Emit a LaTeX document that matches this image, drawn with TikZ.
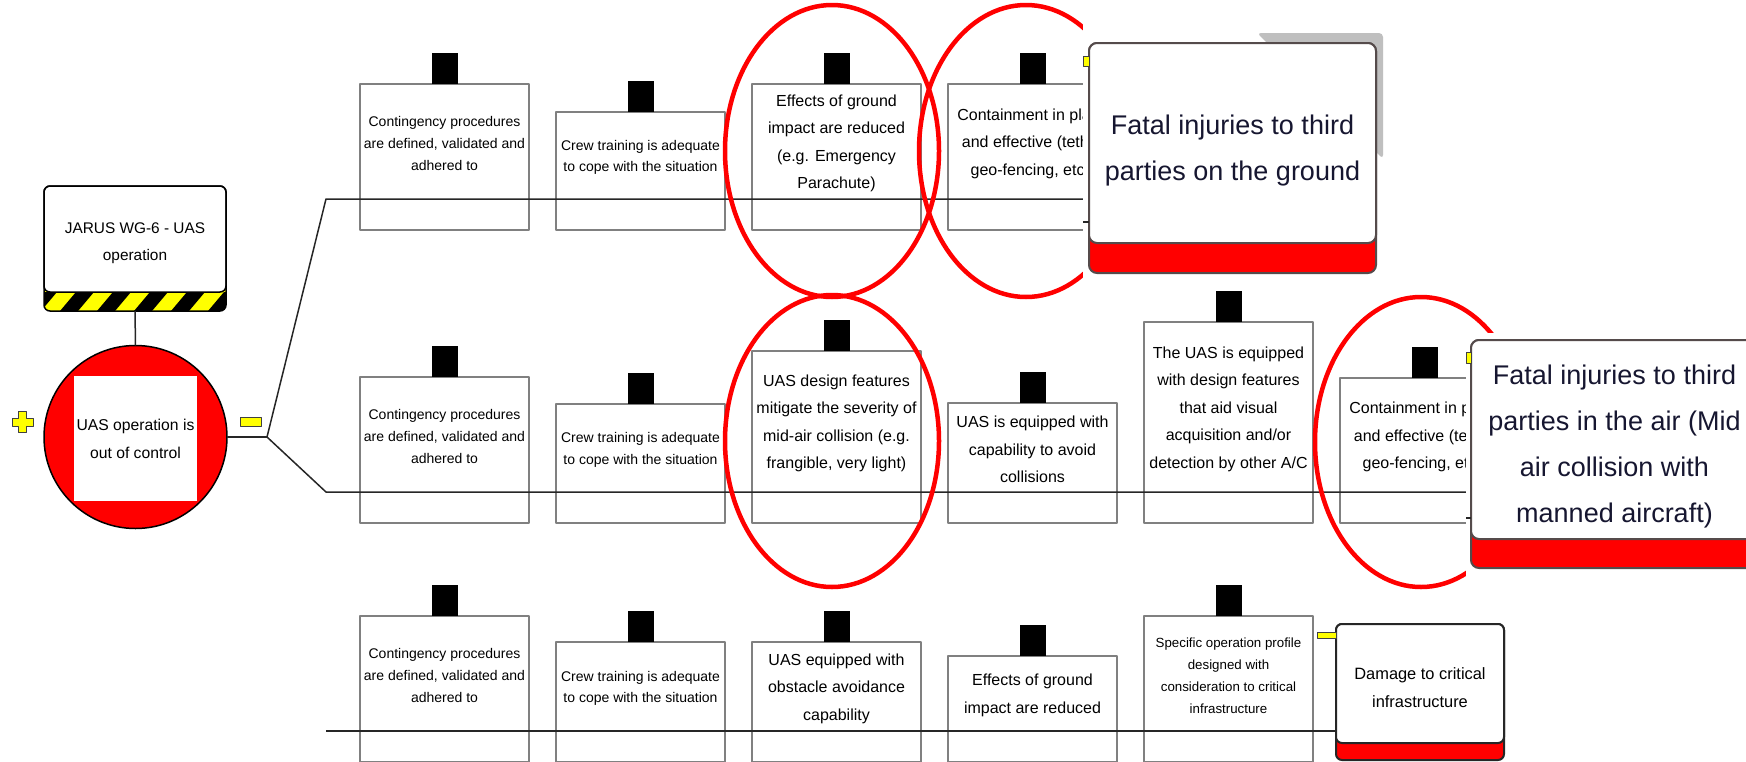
\documentclass[tikz,border=0pt]{standalone}
\usepackage{fontspec}
\setmainfont{Liberation Sans}
\definecolor{boxgray}{RGB}{128,128,128}
\definecolor{edgegray}{RGB}{85,75,75}
\definecolor{inkblue}{RGB}{22,22,48}
\definecolor{hazard}{RGB}{255,255,0}

\begin{document}
\begin{tikzpicture}[x=1pt, y=-1pt, line join=round,
  barrierbox/.style={draw=boxgray, line width=2pt, fill=white, minimum width=169pt, inner sep=0pt, outer sep=0pt},
  small/.style={font=\fontsize{14}{21.7}\selectfont, align=center, inner sep=0pt},
  smaller/.style={font=\fontsize{13.3}{22}\selectfont, align=center, inner sep=0pt},
  medium/.style={font=\fontsize{16}{27.5}\selectfont, align=center, inner sep=0pt},
  eventtext/.style={font=\fontsize{15.6}{27.5}\selectfont, align=center, inner sep=0pt},
  bigtext/.style={font=\fontsize{27}{46}\selectfont, align=center, inner sep=0pt, text=inkblue},
  rowline/.style={line width=1.5pt, draw=black!85},
  ring/.style={draw=red, line width=4.5pt},
  yellowtab/.style={fill=hazard, draw=black!75, line width=0.8pt},
  consequence/.style={draw=edgegray, line width=2pt, fill=white, rounded corners=8pt, inner sep=0pt, outer sep=0pt, anchor=north west},
]
  \useasboundingbox (0,0) rectangle (1746,761);

  % ── 屏障框：框 + 顶上的黑块 + 文字（文字居中在框顶与横线之间）──
  % #1 名字  #2 左边 x  #3 框顶 y  #4 横线 y  #5 字号样式  #6 文字
  \def\barrier#1#2#3#4#5#6{%
    \node (#1) [barrierbox, minimum height={#4+31-#3}, anchor=north west] at (#2,#3) {};%
    \fill ([xshift=-13pt]#1.north) rectangle ++(26,-31);%
    \node (#1t) [#5] at ({#2+84.5},{(#3+#4)/2+2}) {#6};%
  }

  % ── 三行里重复的两列：一行 \foreach ──
  \foreach \r/\ya/\yb/\yl in {a/84/112/199, b/377/404/492, c/616/642/731} {
    \barrier{\r1}{360}{\ya}{\yl}{small}{Contingency procedures\\are defined, validated and\\adhered to}
    \barrier{\r2}{556}{\yb}{\yl}{small}{Crew training is adequate\\to cope with the situation}
  }

  % ── 第一行 ──
  \barrier{a3}{752}{84}{199}{medium}{Effects of ground\\impact are reduced\\(e.g. Emergency\\Parachute)}
  \barrier{a4}{948}{84}{199}{medium}{Containment in place\\and effective (tether\\geo-fencing, etc.)}

  % ── 第二行 ──
  \barrier{b3}{752}{351}{492}{medium}{UAS design features\\mitigate the severity of\\mid-air collision (e.g.\\frangible, very light)}
  \barrier{b4}{948}{403}{492}{medium}{UAS is equipped with\\capability to avoid\\collisions}
  \barrier{b5}{1144}{322}{492}{medium}{The UAS is equipped\\with design features\\that aid visual\\acquisition and/or\\detection by other A/C}
  \barrier{b6}{1340}{378}{492}{medium}{Containment in place\\and effective (tether\\geo-fencing, etc.)}

  % ── 第三行 ──
  \barrier{c3}{752}{642}{731}{medium}{UAS equipped with\\obstacle avoidance\\capability}
  \barrier{c4}{948}{656}{731}{medium}{Effects of ground\\impact are reduced}
  \barrier{c5}{1144}{616}{731}{smaller}{Specific operation profile\\designed with\\consideration to critical\\infrastructure}

  % ── 后果：关键基础设施（先画，第三行横线要接到它）──
  \path[draw=black!85, line width=2pt, fill=red, rounded corners=6pt] (1336,624) rectangle (1504,760);
  \node (dmg) [consequence, draw=black!85, rounded corners=6pt, minimum width=168pt, minimum height=119pt] at (1336,624) {};
  \node (dmgt) [eventtext, font=\fontsize{16.4}{28}\selectfont] at (1420,688) {Damage to critical\\infrastructure};
  \draw[yellowtab] (1317,632) rectangle (1336,638);

  % ── 危险源：黄黑斜纹底边 ──
  \begin{scope}
    \clip[rounded corners=6pt] (44,186) rectangle (226,311);
    \fill[hazard] (44,288) rectangle (226,311);
    \foreach \s in {-1,...,5} \fill ({60+37*\s},311) -- ++(18,0) -- ++(16,-19) -- ++(-18,0) -- cycle;
  \end{scope}
  \path[draw=black, line width=1.5pt, fill=white, rounded corners=6pt] (44,186) rectangle (226,292);
  \node (jarus) [draw=black, line width=1.5pt, rounded corners=6pt, minimum width=182pt, minimum height=125pt,
                 inner sep=0pt, outer sep=0pt, anchor=north west] at (44,186) {};
  \node (jarust) [eventtext, font=\fontsize{15.4}{27}\selectfont] at (135,243.5) {JARUS WG-6 - UAS\\operation};

  % ── 顶事件：红圆 + 白方块 ──
  \node (topevent) [circle, draw=black, line width=1.5pt, fill=red, minimum size=183pt, inner sep=0pt, outer sep=0pt] at (135.5,437) {};
  \fill[white] (74,376) rectangle (197,501);
  \node (topeventt) [eventtext, font=\fontsize{15.7}{28}\selectfont] at (135.5,439) {UAS operation is\\out of control};
  \draw[yellowtab] (18.5,411.5) -- (26.5,411.5) -- (26.5,418) -- (33,418) -- (33,426) -- (26.5,426) -- (26.5,432.5)
                   -- (18.5,432.5) -- (18.5,426) -- (12,426) -- (12,418) -- (18.5,418) -- cycle;
  \draw[yellowtab] (240,417) rectangle (261,426);

  % ── 连线 ──
  \coordinate (jn) at (267,437);
  \coordinate (r1) at (326,199);  \coordinate (r1e) at (1089,199);
  \coordinate (r2) at (326,492);  \coordinate (r2e) at (1471,492);
  \coordinate (r3) at (326,731);
  \draw[rowline] (jarus.south) -- (topevent.north);
  \draw[rowline] (topevent.east) -- (jn);
  \draw[rowline] (jn) -- (r1) -- (r1e);
  \draw[rowline] (jn) -- (r2) -- (r2e);
  \draw[rowline] (r3) -- (r3 -| dmg.west);

  % ── 红圈 ──
  \draw[ring] (832,151) ellipse [x radius=107, y radius=146];
  \draw[ring] (1026,151) ellipse [x radius=107, y radius=146];
  \draw[ring] (832,441) ellipse [x radius=107, y radius=146];
  \draw[ring] (1421,442) ellipse [x radius=106, y radius=145];

  % ── 盖在上面的两个后果框（白底把后面的框、圈切掉）──
  \fill[white] (1083,20) rectangle (1392,290);
  \fill[black!25, rounded corners=4pt] (1257,33) -- (1383,33) -- (1383,159) -- cycle;
  \path[draw=edgegray, line width=2pt, fill=red, rounded corners=8pt] (1089,43) rectangle (1376,273);
  \node (fatal1) [consequence, minimum width=287pt, minimum height=200pt] at (1089,43) {};
  \node (fatal1t) [bigtext] at (1232.5,151) {Fatal injuries to third\\parties on the ground};
  \draw[yellowtab] (1083,56) rectangle (1089,66);
  \draw[rowline] (fatal1.west |- 0,222) -- ++(-6,0);

  \fill[white] (1466,333) rectangle (1746,590);
  \path[draw=edgegray, line width=2pt, fill=red, rounded corners=8pt] (1471,340) rectangle (1758,568);
  \node (fatal2) [consequence, minimum width=287pt, minimum height=199pt] at (1471,340) {};
  \node (fatal2t) [bigtext] at (1614.5,447) {Fatal injuries to third\\parties in the air (Mid\\air collision with\\manned aircraft)};
  \draw[yellowtab] (1466,352) rectangle (1471,363);
  \draw[rowline] (fatal2.west |- 0,518) -- ++(-5,0);
\end{tikzpicture}
\end{document}
